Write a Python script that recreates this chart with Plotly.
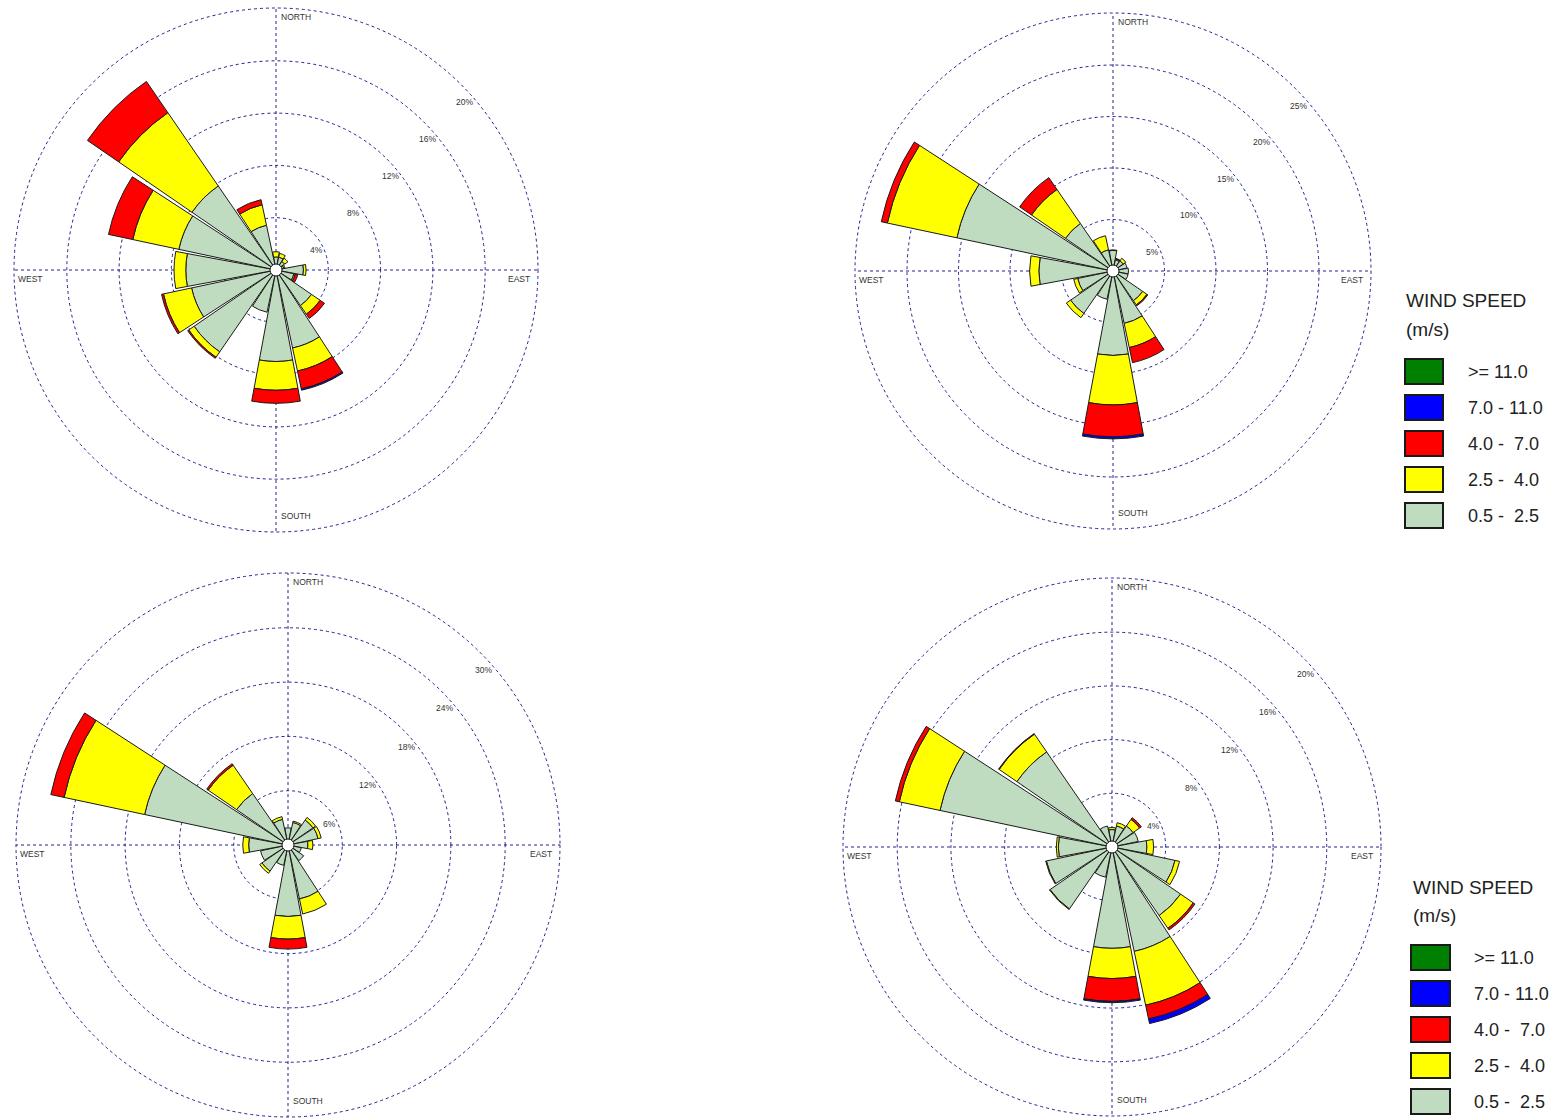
import plotly.graph_objects as go

W, H = 1560, 1118

directions = ["N", "NNE", "NE", "ENE", "E", "ESE", "SE", "SSE",
              "S", "SSW", "SW", "WSW", "W", "WNW", "NW", "NNW"]
dir_angles = [0, 22.5, 45, 67.5, 90, 112.5, 135, 157.5,
              180, 202.5, 225, 247.5, 270, 292.5, 315, 337.5]

speed_classes = ["0.5 -  2.5", "2.5 -  4.0", "4.0 -  7.0", "7.0 - 11.0", ">= 11.0"]
class_colors = ["#C0DCC0", "#FFFF00", "#FF0000", "#0000FF", "#008000"]

# ---- Chart 1 (top-left), frequency % per direction and speed class ----
c1_s1 = [1.0, 1.0, 0.8, 0.6, 2.1, 1.4, 3.3, 6.1, 7.0, 3.3, 7.6, 6.6, 6.9, 7.6, 7.8, 3.5]
c1_s2 = [0.4, 0.3, 0.3, 0.1, 0.2, 0.1, 0.8, 1.8, 2.2, 0.0, 0.5, 2.2, 0.9, 3.6, 6.8, 1.6]
c1_s3 = [0.0, 0.0, 0.0, 0.0, 0.0, 0.2, 0.4, 1.4, 1.0, 0.0, 0.1, 0.15, 0.0, 1.9, 2.9, 0.4]
c1_s4 = [0.0, 0.0, 0.0, 0.0, 0.0, 0.0, 0.0, 0.1, 0.0, 0.0, 0.0, 0.0, 0.0, 0.0, 0.0, 0.0]
c1_s5 = [0.0] * 16
c1_rings = [4, 8, 12, 16, 20]

# ---- Chart 2 (top-right) ----
c2_s1 = [2.0, 1.1, 1.2, 1.4, 1.5, 1.5, 3.5, 5.2, 8.2, 2.8, 5.0, 3.5, 7.2, 15.5, 5.6, 2.1]
c2_s2 = [0.05, 0.1, 0.3, 0.0, 0.0, 0.0, 0.5, 2.4, 4.8, 0.0, 0.5, 0.4, 0.9, 6.9, 4.0, 1.4]
c2_s3 = [0.0, 0.05, 0.0, 0.0, 0.0, 0.0, 0.1, 1.5, 3.1, 0.0, 0.0, 0.0, 0.0, 0.6, 1.4, 0.0]
c2_s4 = [0.0, 0.0, 0.0, 0.0, 0.0, 0.0, 0.0, 0.0, 0.2, 0.0, 0.0, 0.0, 0.0, 0.0, 0.0, 0.0]
c2_s5 = [0.0] * 16
c2_rings = [5, 10, 15, 20, 25]

# ---- Chart 3 (bottom-left) ----
c3_s1 = [1.9, 2.55, 3.35, 3.4, 2.2, 1.5, 2.1, 6.1, 7.9, 2.3, 3.5, 3.1, 4.35, 16.2, 6.9, 2.9]
c3_s2 = [0.0, 0.15, 0.35, 0.35, 0.55, 0.0, 0.0, 1.7, 2.5, 0.0, 0.3, 0.0, 0.65, 9.1, 3.8, 0.3]
c3_s3 = [0.0, 0.0, 0.0, 0.0, 0.0, 0.0, 0.0, 0.0, 1.1, 0.0, 0.0, 0.0, 0.0, 1.5, 0.2, 0.0]
c3_s4 = [0.0] * 16
c3_s5 = [0.0] * 16
c3_rings = [6, 12, 18, 24, 30]

# ---- Chart 4 (bottom-right) ----
c4_s1 = [1.3, 1.6, 1.9, 2.0, 2.6, 4.8, 6.2, 7.95, 7.55, 2.3, 5.6, 5.0, 4.0, 13.1, 8.6, 1.6]
c4_s2 = [0.15, 0.25, 0.6, 0.0, 0.5, 0.35, 1.15, 4.1, 2.25, 0.0, 0.05, 0.05, 0.15, 3.1, 1.6, 0.0]
c4_s3 = [0.0, 0.0, 0.15, 0.0, 0.0, 0.0, 0.15, 1.05, 1.7, 0.0, 0.0, 0.0, 0.0, 0.3, 0.05, 0.0]
c4_s4 = [0.0, 0.0, 0.0, 0.0, 0.0, 0.0, 0.0, 0.35, 0.1, 0.0, 0.0, 0.0, 0.0, 0.0, 0.0, 0.0]
c4_s5 = [0.0] * 16
c4_rings = [4, 8, 12, 16, 20]

charts = [
    dict(series=[c1_s1, c1_s2, c1_s3, c1_s4, c1_s5], rings=c1_rings, cx=276, cy=270, R=262),
    dict(series=[c2_s1, c2_s2, c2_s3, c2_s4, c2_s5], rings=c2_rings, cx=1113, cy=271, R=258),
    dict(series=[c3_s1, c3_s2, c3_s3, c3_s4, c3_s5], rings=c3_rings, cx=288, cy=845, R=272),
    dict(series=[c4_s1, c4_s2, c4_s3, c4_s4, c4_s5], rings=c4_rings, cx=1112, cy=847, R=269),
]

GRID = "#22228F"
FONT = "Liberation Sans, Arial, sans-serif"

fig = go.Figure()
layout_polars = {}
annotations = []
shapes = []


def px_x(x):
    return min(max(x / W, 0.0), 1.0)


def px_y(y):
    return min(max(1 - y / H, 0.0), 1.0)


for i, ch in enumerate(charts):
    pid = "polar" if i == 0 else f"polar{i + 1}"
    sub = pid
    cx, cy, R = ch["cx"], ch["cy"], ch["R"]
    rmax = ch["rings"][-1]
    for k, (vals, name, col) in enumerate(zip(ch["series"], speed_classes, class_colors)):
        th = [a for a, v in zip(dir_angles, vals) if v > 0]
        rr = [v for v in vals if v > 0]
        if not rr:
            continue
        fig.add_trace(go.Barpolar(
            r=rr, theta=th, width=21, name=name, showlegend=False,
            marker=dict(color=col, line=dict(color="#1a1a1a", width=1)),
            subplot=sub,
        ))
    # calm centre circle
    fig.add_trace(go.Scatterpolar(
        r=[0], theta=[0], mode="markers", showlegend=False, subplot=sub,
        marker=dict(size=12, color="white", line=dict(color="#1a1a1a", width=1)),
        hoverinfo="skip",
    ))
    layout_polars[pid] = dict(
        domain=dict(x=[px_x(cx - R), px_x(cx + R)], y=[px_y(cy + R), px_y(cy - R)]),
        bgcolor="rgba(0,0,0,0)",
        barmode="stack",
        radialaxis=dict(range=[0, rmax * 1.002], tickvals=ch["rings"], showticklabels=False,
                        ticks="", showline=False, gridcolor=GRID, griddash="dot",
                        gridwidth=1, layer="below traces"),
        angularaxis=dict(rotation=90, direction="clockwise", tickvals=[0, 90, 180, 270],
                         showticklabels=False, ticks="", showline=False, gridcolor=GRID,
                         griddash="dot", gridwidth=1, layer="below traces"),
    )
    # outermost ring (dotted frame circle)
    shapes.append(dict(type="circle", xref="paper", yref="paper", layer="below",
                       x0=(cx - R) / W, x1=(cx + R) / W,
                       y0=1 - (cy + R) / H, y1=1 - (cy - R) / H,
                       line=dict(color=GRID, width=1, dash="dot")))
    scale = R / rmax
    # ring labels along the 45 degree line
    for v in ch["rings"]:
        rp = v * scale
        x = cx + rp * 0.7071 + 3
        y = cy - rp * 0.7071 + 17
        annotations.append(dict(x=px_x(x), y=px_y(y), xref="paper", yref="paper",
                                text=f"{v}%", showarrow=False, xanchor="center", yanchor="middle",
                                font=dict(family=FONT, size=8.5, color="#333333")))
    # compass labels
    comp = [("NORTH", cx + 3, cy - R + 9, "left"),
            ("SOUTH", cx + 3, cy + R - 16, "left"),
            ("WEST", cx - R + 2, cy + 9, "left"),
            ("EAST", cx + R - 6, cy + 9, "right")]
    for t, x, y, anc in comp:
        annotations.append(dict(x=px_x(x), y=px_y(y), xref="paper", yref="paper",
                                text=t, showarrow=False, xanchor=anc, yanchor="middle",
                                font=dict(family=FONT, size=8.5, color="#333333")))

# legends (drawn manually, one per row)
legend_specs = [dict(x=1404, ty=301, box_y=359, bx=1405, bw=38, lx=1466),
                dict(x=1411, ty=887, box_y=945, bx=1411, bw=39, lx=1472)]
for lg in legend_specs:
    annotations.append(dict(x=px_x(lg["x"]), y=px_y(lg["ty"]), xref="paper", yref="paper",
                            text="WIND SPEED", showarrow=False, xanchor="left", yanchor="middle",
                            font=dict(family=FONT, size=19, color="#222222")))
    annotations.append(dict(x=px_x(lg["x"]), y=px_y(lg["ty"] + 28), xref="paper", yref="paper",
                            text="(m/s)", showarrow=False, xanchor="left", yanchor="middle",
                            font=dict(family=FONT, size=19, color="#222222")))
    order = list(range(len(speed_classes)))[::-1]
    for j, k in enumerate(order):
        y0 = lg["box_y"] + j * 36
        shapes.append(dict(type="rect", xref="paper", yref="paper",
                           x0=px_x(lg["bx"]), x1=px_x(lg["bx"] + lg["bw"]),
                           y0=px_y(y0), y1=px_y(y0 + 25),
                           fillcolor=class_colors[k], line=dict(color="#1a1a1a", width=2)))
        annotations.append(dict(x=px_x(lg["lx"]), y=px_y(y0 + 13), xref="paper", yref="paper",
                                text=speed_classes[k].replace("  ", "&nbsp; "), showarrow=False,
                                xanchor="left", yanchor="middle",
                                font=dict(family=FONT, size=18, color="#222222")))

fig.update_layout(
    width=W, height=H, margin=dict(l=0, r=0, t=0, b=0),
    paper_bgcolor="white", plot_bgcolor="white",
    showlegend=False,
    annotations=annotations, shapes=shapes,
    **layout_polars,
)

fig.write_html("out.html",
               config={"displayModeBar": False},
               post_script="document.body.style.margin='0px';document.body.style.overflow='hidden';")
